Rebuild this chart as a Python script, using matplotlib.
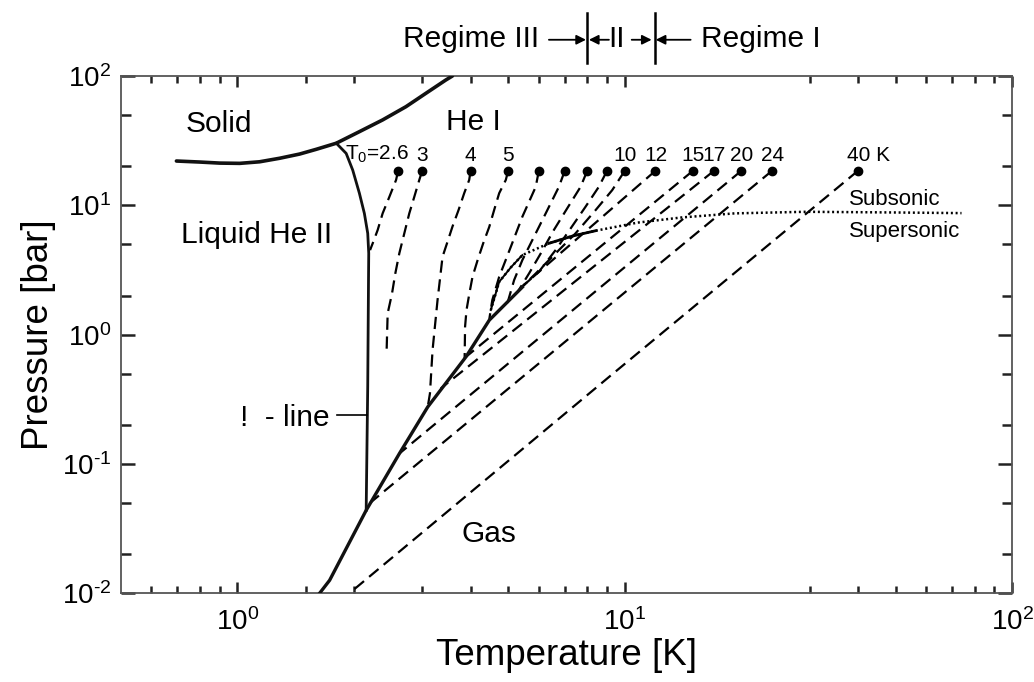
"""Helium-4 phase diagram with isentropic expansion paths from P0 ~ 18.5 bar.

Phase boundaries (melting, lambda, vapour pressure) are solid, isentropes
from each stagnation temperature T0 are dashed, the sonic line is dotted.
Writes out.png.
"""
import numpy as np
import matplotlib

matplotlib.use("Agg")
import matplotlib.pyplot as plt
from matplotlib.ticker import FixedLocator, FuncFormatter, NullFormatter

plt.rcParams.update(
    {
        "font.family": ["Liberation Sans", "DejaVu Sans"],
        "mathtext.fontset": "custom",
        "mathtext.rm": "Liberation Sans",
        "mathtext.it": "Liberation Sans:italic",
        "mathtext.bf": "Liberation Sans:bold",
        "axes.unicode_minus": False,
    }
)

# --- phase boundaries (T in K, P in bar) ---
melt_T = [0.696, 0.80, 0.90, 1.014, 1.141, 1.285, 1.447, 1.598, 1.80, 2.065, 2.37, 2.724, 3.067, 3.45, 3.59]
melt_P = [22.0, 21.6, 21.2, 21.1, 21.7, 23.1, 24.9, 27.1, 30.2, 37.1, 45.7, 57.9, 73.5, 93.0, 100.0]

lam_T = [1.80, 1.909, 1.985, 2.065, 2.127, 2.17, 2.183, 2.18, 2.17, 2.15]
lam_P = [30.2, 25.2, 18.7, 12.4, 8.66, 6.07, 4.25, 2.64, 0.40, 0.0438]

vap_T = [1.63, 1.73, 2.15, 2.62, 3.10, 3.89, 4.47, 5.44]
vap_P = [0.010, 0.0126, 0.0438, 0.1205, 0.276, 0.673, 1.295, 2.33]

# sonic line (Mach 1 along the expansions)
sonic_T = [4.51, 4.74, 5.08, 5.44, 6.37, 7.32, 8.41, 10.8, 14.0, 19.2, 29.3, 50.0, 74.0]
sonic_P = [1.55, 2.56, 3.31, 4.12, 5.08, 5.78, 6.36, 7.35, 8.05, 8.66, 8.91, 8.80, 8.70]

# --- isentropes, starting at the stagnation point (T0, P0) ---
P0 = 18.5
T0 = [2.6, 3, 4, 5, 6, 7, 8, 9, 10, 12, 15, 17, 20, 24, 40]
T0_labels = ["T$_0$=2.6", "3", "4", "5", "", "", "", "", "10", "12", "15", "17", "20", "24", "40 K"]

iso_2p6_T = [2.6, 2.568, 2.467, 2.371, 2.302, 2.235, 2.20]
iso_2p6_P = [18.5, 15.7, 11.6, 8.66, 6.44, 5.08, 4.5]
iso_3_T = [3.0, 2.948, 2.861, 2.778, 2.697, 2.618, 2.557, 2.507, 2.443, 2.428]
iso_3_P = [18.5, 15.7, 11.6, 8.66, 6.07, 4.25, 2.98, 2.08, 1.46, 0.759]
iso_4_T = [4.0, 3.966, 3.85, 3.723, 3.59, 3.487, 3.385, 3.286, 3.19, 3.141, 3.10]
iso_4_P = [18.5, 15.7, 12.4, 9.19, 6.83, 5.23, 4.0, 1.85, 0.759, 0.351, 0.276]
iso_5_T = [5.0, 4.93, 4.74, 4.60, 4.47, 4.31, 4.17, 4.045, 3.97, 3.903, 3.87, 3.86]
iso_5_P = [18.5, 15.7, 12.4, 9.19, 6.83, 5.08, 3.77, 2.80, 2.08, 1.547, 1.15, 0.655]
iso_6_T = [6.0, 5.89, 5.44, 5.08, 4.74, 4.55, 4.47]
iso_6_P = [18.5, 13.9, 8.16, 4.78, 2.80, 1.85, 1.32]
iso_7_T = [7.0, 6.76, 6.25, 5.83, 5.44, 5.18, 4.98]
iso_7_P = [18.5, 13.9, 8.66, 5.71, 3.77, 2.64, 1.76]
iso_8_T = [8.0, 7.69, 7.10, 6.56, 6.07, 5.66, 5.28]
iso_8_P = [18.5, 13.9, 9.46, 6.44, 4.25, 2.97, 2.12]
iso_9_T = [9.0, 8.57, 7.92, 7.25, 6.63, 6.00, 5.39]
iso_9_P = [18.5, 13.9, 9.75, 6.63, 4.51, 3.06, 2.30]
iso_10_T = [10.0, 9.28, 8.41, 7.46, 6.63, 5.89, 5.42]
iso_10_P = [18.5, 13.1, 9.19, 6.06, 4.25, 2.97, 2.33]
iso_12_T = [12.0, 5.47]
iso_12_P = [18.5, 2.40]
iso_15_T = [15.0, 3.89]
iso_15_P = [18.5, 0.673]
iso_17_T = [17.0, 3.35]
iso_17_P = [18.5, 0.384]
iso_20_T = [20.0, 2.62]
iso_20_P = [18.5, 0.1205]
iso_24_T = [24.0, 2.19]
iso_24_P = [18.5, 0.0494]
iso_40_T = [40.0, 9.1, 1.946]
iso_40_P = [18.5, 0.47, 0.010]

isentropes = [
    (iso_2p6_T, iso_2p6_P), (iso_3_T, iso_3_P), (iso_4_T, iso_4_P), (iso_5_T, iso_5_P),
    (iso_6_T, iso_6_P), (iso_7_T, iso_7_P), (iso_8_T, iso_8_P), (iso_9_T, iso_9_P),
    (iso_10_T, iso_10_P), (iso_12_T, iso_12_P), (iso_15_T, iso_15_P), (iso_17_T, iso_17_P),
    (iso_20_T, iso_20_P), (iso_24_T, iso_24_P), (iso_40_T, iso_40_P),
]

# axis ticks
x_major = [1, 10, 100]
x_minor = [0.6, 0.7, 0.8, 0.9, 1.5, 2, 3, 4, 5, 6, 7, 8, 9, 30, 40, 50, 60, 70, 80, 90]
y_major = [0.01, 0.1, 1, 10, 100]
y_minor = [0.02, 0.05, 0.2, 0.5, 2, 5, 20, 50]


def pow10(v, pos):
    e = int(round(np.log10(v)))
    exp = r"\text{-}%d" % -e if e < 0 else "%d" % e
    return r"$\mathdefault{10^{%s}}$" % exp


fig = plt.figure(figsize=(10.34, 6.82), dpi=100)
ax = fig.add_axes([0.1168, 0.1301, 0.8621, 0.7585])
ax.set_xscale("log")
ax.set_yscale("log")
ax.set_xlim(0.5, 100)
ax.set_ylim(0.01, 100)

# isentropes
for T, P in isentropes:
    ax.plot(T, P, color="k", lw=1.6, ls=(0, (5.5, 3.0)), zorder=2)
ax.plot(T0, [P0] * len(T0), "o", color="k", ms=6, zorder=4)
for t, lab in zip(T0, T0_labels):
    if not lab:
        continue
    if lab.startswith("T"):
        ax.annotate(lab, (t, P0), xytext=(8, 4), textcoords="offset points",
                    ha="right", va="bottom", fontsize=15)
    elif lab.endswith("K"):
        ax.annotate(lab, (t, P0), xytext=(-8, 4), textcoords="offset points",
                    ha="left", va="bottom", fontsize=15)
    else:
        ax.annotate(lab, (t, P0), xytext=(0, 4), textcoords="offset points",
                    ha="center", va="bottom", fontsize=15)

# sonic line: dotted, with short solid stretches
ax.plot(sonic_T, sonic_P, color="k", lw=1.8, ls=(0, (0.8, 1.1)), zorder=3)
ax.plot(sonic_T[:4], sonic_P[:4], color="k", lw=1.4, zorder=3)
ax.plot(sonic_T[4:7], sonic_P[4:7], color="k", lw=2.0, zorder=3)

# phase boundaries
ax.plot(melt_T, melt_P, color="#111", lw=2.6, solid_capstyle="round", zorder=5)
ax.plot(lam_T, lam_P, color="#111", lw=2.0, zorder=5)
ax.plot(vap_T, vap_P, color="#111", lw=2.4, zorder=5)

# region labels
ax.text(0.736, 36.9, "Solid", fontsize=21.5, ha="left", va="baseline")
ax.text(3.46, 38.2, "He I", fontsize=21.5, ha="left", va="baseline")
ax.text(0.717, 5.11, "Liquid He II", fontsize=21.5, ha="left", va="baseline")
ax.text(3.80, 0.0249, "Gas", fontsize=21.5, ha="left", va="baseline")
ax.text(1.729, 0.197, "!  - line", fontsize=21.5, ha="right", va="baseline")
ax.plot([1.813, 2.16], [0.238, 0.238], color="k", lw=1.2, zorder=5)
ax.text(37.8, 10.04, "Subsonic", fontsize=16, ha="left", va="baseline")
ax.text(37.8, 5.71, "Supersonic", fontsize=16, ha="left", va="baseline")

# flow regimes above the frame
trans = ax.get_xaxis_transform()
for xb in (8.0, 12.0):
    ax.plot([xb, xb], [1.025, 1.122], transform=trans, clip_on=False, color="k", lw=1.8)
arrow = dict(arrowstyle="-|>", color="k", lw=1.3, mutation_scale=14, shrinkA=0, shrinkB=0)
for x_from, x_to in ((6.37, 7.94), (9.10, 8.08), (10.42, 11.73), (14.79, 12.02)):
    ax.annotate("", xy=(x_to, 1.0700), xytext=(x_from, 1.0700), xycoords=trans,
                textcoords=trans, arrowprops=arrow, annotation_clip=False)
ax.text(6.0, 1.056, "Regime III", transform=trans, ha="right", va="baseline", fontsize=21.5)
ax.text(9.54, 1.056, "II", transform=trans, ha="center", va="baseline", fontsize=21.5)
ax.text(15.7, 1.056, "Regime I", transform=trans, ha="left", va="baseline", fontsize=21.5)

# axes cosmetics
ax.xaxis.set_major_locator(FixedLocator(x_major))
ax.xaxis.set_minor_locator(FixedLocator(x_minor))
ax.yaxis.set_major_locator(FixedLocator(y_major))
ax.yaxis.set_minor_locator(FixedLocator(y_minor))
ax.xaxis.set_major_formatter(FuncFormatter(pow10))
ax.yaxis.set_major_formatter(FuncFormatter(pow10))
ax.xaxis.set_minor_formatter(NullFormatter())
ax.yaxis.set_minor_formatter(NullFormatter())
ax.tick_params(which="both", direction="in", top=True, right=True, width=1.8,
               color="#222", labelsize=20)
ax.tick_params(axis="x", which="major", length=8, pad=11)
ax.tick_params(axis="x", which="minor", length=5)
ax.tick_params(axis="y", which="major", length=10, pad=7)
ax.tick_params(axis="y", which="minor", length=7.5)
for sp in ax.spines.values():
    sp.set_color("#555")
    sp.set_linewidth(1.3)

ax.set_xlabel("Temperature [K]", fontsize=26.5, labelpad=1)
ax.set_ylabel("Pressure [bar]", fontsize=26.5, labelpad=4)

fig.savefig("out.png", dpi=100)
